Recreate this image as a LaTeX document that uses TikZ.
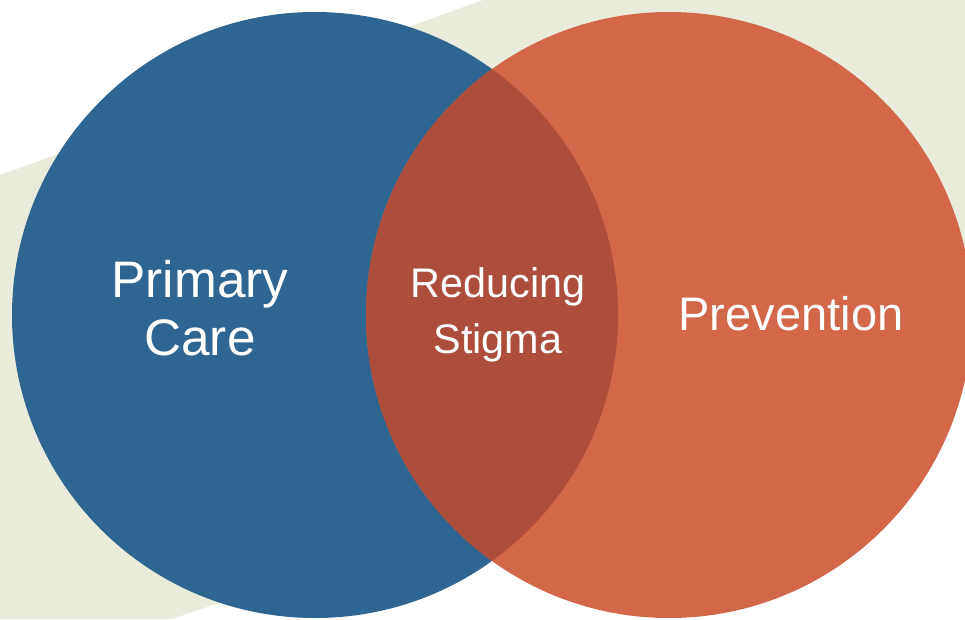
\documentclass[tikz,border=0pt]{standalone}
\usepackage{fontspec}
\setmainfont{Liberation Sans}
\usepackage{xcolor}
\definecolor{bandgreen}{HTML}{E9ECDB}
\definecolor{careblue}{HTML}{2E6591}
\definecolor{prevorange}{HTML}{D26749}
\definecolor{stigmared}{HTML}{AC4E3B}
\tikzset{
  venntext/.style={text=white,align=center,inner sep=0pt},
}

\begin{document}
\begin{tikzpicture}[x=0.75pt,y=-0.75pt]
  \useasboundingbox[fill=white] (0,0) rectangle (965,619);

  % Background band
  \fill[bandgreen] (0,175) -- (483,0) -- (965,0) -- (965,349) -- (172,619) -- (0,619) -- cycle;

  % Circles
  \coordinate (care) at (315,315);
  \coordinate (prev) at (669,315);
  \fill[careblue] (care) circle [radius=303];
  \fill[prevorange] (prev) circle [radius=303];
  \begin{scope}
    \clip (prev) circle [radius=303];
    \fill[stigmared] (care) circle [radius=303];
  \end{scope}

  % Labels
  \node[venntext,font=\fontsize{38.5}{43.5}\selectfont] (primary) at (200,308) {Primary\\Care};
  \node[venntext,font=\fontsize{31}{42}\selectfont] (stigma) at (498,315) {Reducing\\Stigma};
  \node[venntext,font=\fontsize{35.3}{40}\selectfont] (prevention) at (791,314) {Prevention};

\end{tikzpicture}
\end{document}
